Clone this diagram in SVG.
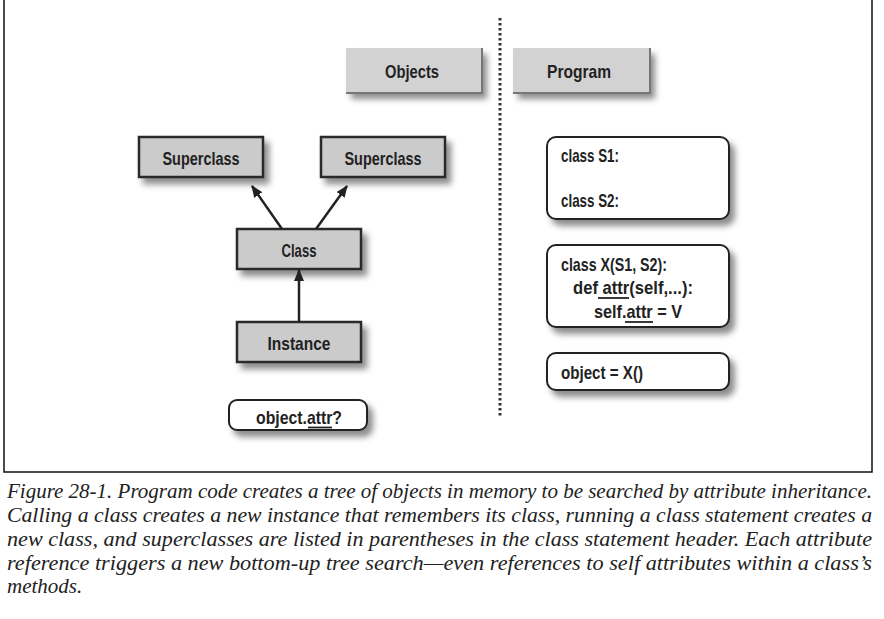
<svg xmlns="http://www.w3.org/2000/svg" width="884" height="619" viewBox="0 0 884 619">
<style>
.lbl{font-family:"Liberation Sans Narrow","Liberation Sans",Arial,sans-serif;font-weight:bold;font-size:19px;fill:#222}
.code{font-family:"Liberation Sans Narrow","Liberation Sans",Arial,sans-serif;font-weight:bold;font-size:19px;fill:#222}
.box{fill:#cbcbcb;stroke:#2a2a2a;stroke-width:2.5}
.rbox{fill:#fff;stroke:#222;stroke-width:2}
.hdr{fill:#d2d2d2}
.ul{stroke:#222;stroke-width:1.8}
.cap{font-family:"Liberation Serif","Times New Roman",serif;font-style:italic;font-size:21px;fill:#222}
.conn{stroke:#222;stroke-width:2.5;fill:none}
</style>
<defs>
<filter id="sh" x="-20%" y="-30%" width="150%" height="180%">
<feDropShadow dx="5" dy="6" stdDeviation="3" flood-color="#000" flood-opacity="0.45"/>
</filter>
<marker id="ah" viewBox="0 0 12 10" refX="11" refY="5" markerWidth="12" markerHeight="10" markerUnits="userSpaceOnUse" orient="auto">
<path d="M0,0 L12,5 L0,10 Z" fill="#222"/>
</marker>
</defs>
<rect width="884" height="619" fill="#fff"/>
<g id="frame" stroke="#111" stroke-width="1.5" fill="none">
<path d="M4,0 V472 H872 V0"/>
</g>
<line id="divider" x1="500" y1="18" x2="500" y2="418" stroke="#333" stroke-width="3" stroke-dasharray="2.5 2.5"/>
<g id="hdr-objects">
<rect class="hdr" x="346" y="48" width="136" height="45" filter="url(#sh)"/>
<path d="M346,93 H482 V48" stroke="#777" stroke-width="2" fill="none"/>
<text class="lbl" x="412" y="78" text-anchor="middle" textLength="54" lengthAdjust="spacingAndGlyphs">Objects</text>
</g>
<g id="hdr-program">
<rect class="hdr" x="513" y="48" width="137" height="45" filter="url(#sh)"/>
<path d="M513,93 H650 V48" stroke="#777" stroke-width="2" fill="none"/>
<text class="lbl" x="579" y="78" text-anchor="middle" textLength="64" lengthAdjust="spacingAndGlyphs">Program</text>
</g>
<g id="superclass1">
<rect class="box" x="139" y="137" width="124" height="40" filter="url(#sh)"/>
<text class="lbl" x="201" y="165" text-anchor="middle" textLength="77" lengthAdjust="spacingAndGlyphs">Superclass</text>
</g>
<g id="superclass2">
<rect class="box" x="321" y="137" width="124" height="40" filter="url(#sh)"/>
<text class="lbl" x="383" y="165" text-anchor="middle" textLength="77" lengthAdjust="spacingAndGlyphs">Superclass</text>
</g>
<g id="class">
<rect class="box" x="237" y="229" width="124" height="40" filter="url(#sh)"/>
<text class="lbl" x="299" y="257" text-anchor="middle" textLength="35" lengthAdjust="spacingAndGlyphs">Class</text>
</g>
<g id="instance">
<rect class="box" x="237" y="322" width="124" height="40" filter="url(#sh)"/>
<text class="lbl" x="299" y="350" text-anchor="middle" textLength="63" lengthAdjust="spacingAndGlyphs">Instance</text>
</g>
<g id="query">
<rect class="rbox" x="229" y="400" width="138" height="30" rx="8" filter="url(#sh)"/>
<text class="lbl" x="256" y="424" textLength="86" lengthAdjust="spacingAndGlyphs">object.attr?</text>
<line class="ul" x1="308" y1="427.5" x2="332" y2="427.5"/>
</g>
<g id="code-s">
<rect class="rbox" x="547" y="137" width="182" height="82" rx="9" filter="url(#sh)"/>
<text class="code" x="561" y="162" textLength="58" lengthAdjust="spacingAndGlyphs">class S1:</text>
<text class="code" x="561" y="207" textLength="58" lengthAdjust="spacingAndGlyphs">class S2:</text>
</g>
<g id="code-x">
<rect class="rbox" x="547" y="245" width="182" height="82" rx="9" filter="url(#sh)"/>
<text class="code" x="561" y="271" textLength="106" lengthAdjust="spacingAndGlyphs">class X(S1, S2):</text>
<text class="code" x="573" y="294" textLength="120" lengthAdjust="spacingAndGlyphs">def attr(self,...):</text>
<line class="ul" x1="598" y1="298" x2="629" y2="298"/>
<text class="code" x="594" y="318" textLength="88" lengthAdjust="spacingAndGlyphs">self.attr = V</text>
<line class="ul" x1="625" y1="322" x2="653" y2="322"/>
</g>
<g id="code-obj">
<rect class="rbox" x="547" y="353" width="182" height="37" rx="9" filter="url(#sh)"/>
<text class="code" x="561" y="379" textLength="82" lengthAdjust="spacingAndGlyphs">object = X()</text>
</g>
<g id="connectors">
<line class="conn" x1="282" y1="229" x2="252" y2="186" marker-end="url(#ah)"/>
<line class="conn" x1="316" y1="229" x2="347" y2="186" marker-end="url(#ah)"/>
<line class="conn" x1="299" y1="322" x2="299" y2="270" marker-end="url(#ah)"/>
</g>
<g id="caption">
<text class="cap" x="7" y="498" textLength="865" lengthAdjust="spacingAndGlyphs">Figure 28-1. Program code creates a tree of objects in memory to be searched by attribute inheritance.</text>
<text class="cap" x="7" y="522" textLength="865" lengthAdjust="spacingAndGlyphs">Calling a class creates a new instance that remembers its class, running a class statement creates a</text>
<text class="cap" x="7" y="546" textLength="865" lengthAdjust="spacingAndGlyphs">new class, and superclasses are listed in parentheses in the class statement header. Each attribute</text>
<text class="cap" x="7" y="570" textLength="865" lengthAdjust="spacingAndGlyphs">reference triggers a new bottom-up tree search—even references to self attributes within a class’s</text>
<text class="cap" x="7" y="593">methods.</text>
</g>
</svg>
